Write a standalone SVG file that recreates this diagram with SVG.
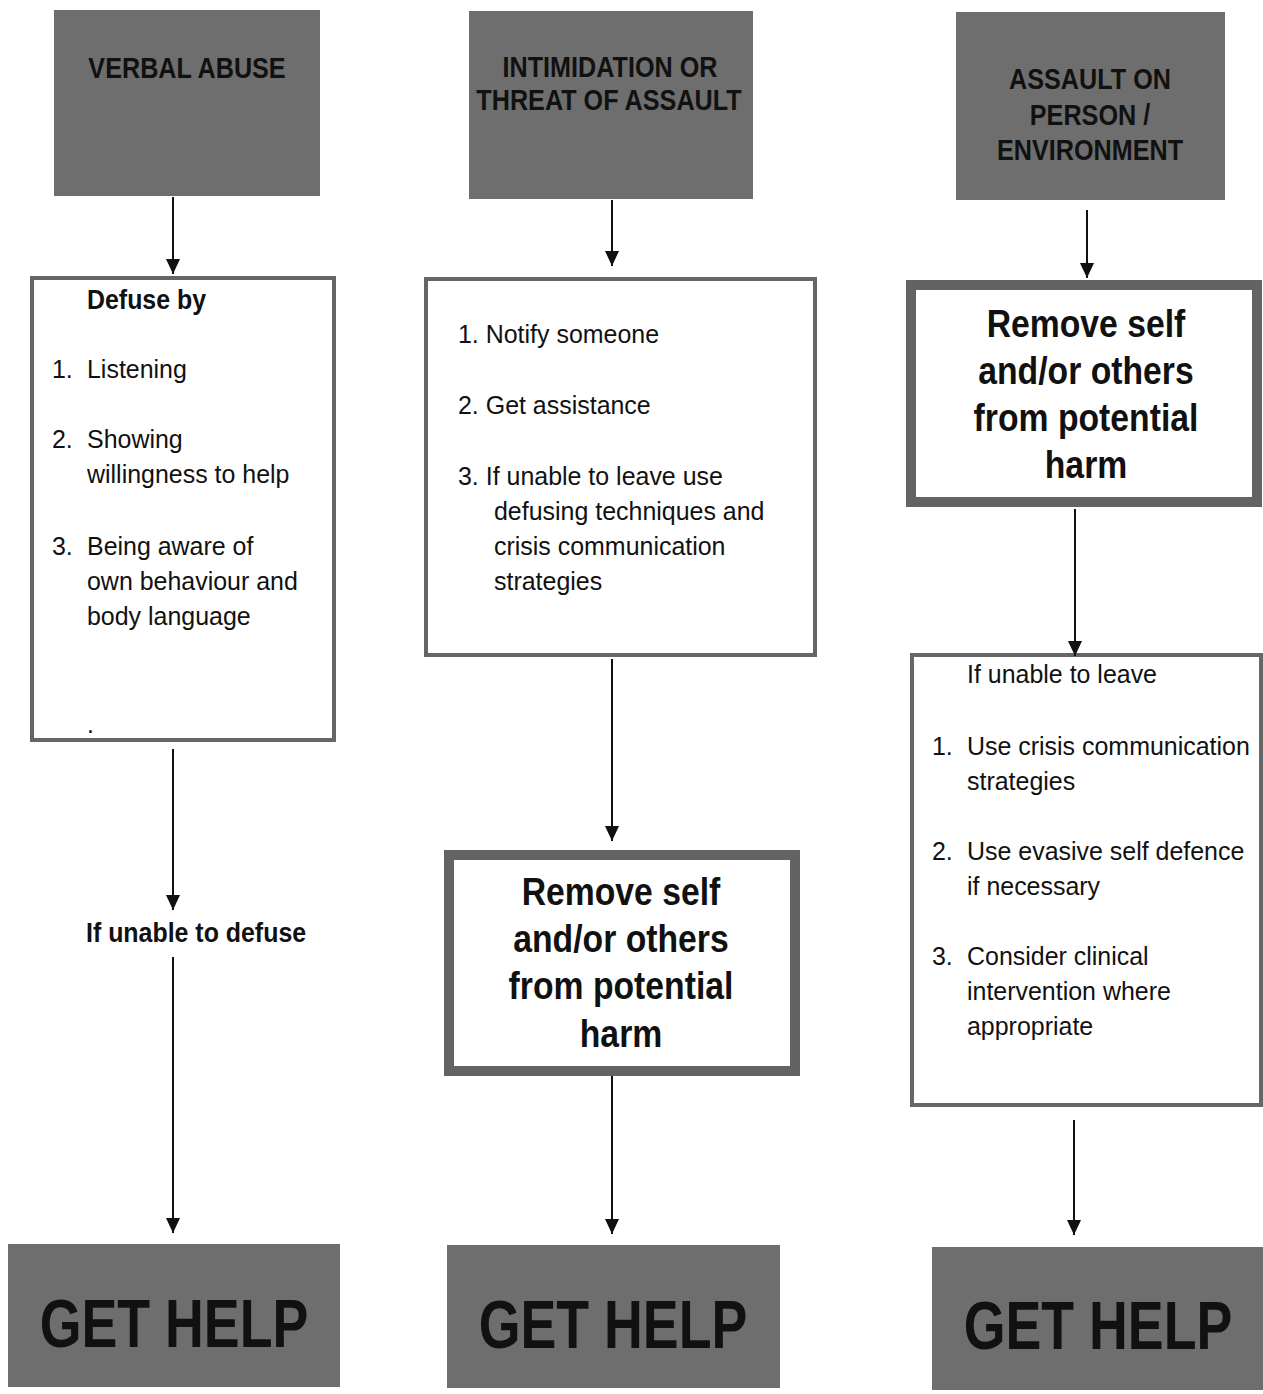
<svg xmlns="http://www.w3.org/2000/svg" width="1263" height="1394" viewBox="0 0 1263 1394">
<style>
text{font-family:"Liberation Sans",Arial,sans-serif;fill:#111}
.hdr{fill:#6e6e6e;stroke:none}
.box{fill:#fff;stroke:#666;stroke-width:4}
.tbox{fill:#fff;stroke:#636363;stroke-width:10}
.lab{font-size:30px;font-weight:bold}
.gh{font-size:68px;font-weight:bold}
.reg{font-size:26px}
.bs{font-size:28px;font-weight:bold}
.big{font-size:39px;font-weight:bold}
.c{text-anchor:middle}
.con line{stroke:#111;stroke-width:2;marker-end:url(#ah)}
</style>
<defs>
<marker id="ah" markerUnits="userSpaceOnUse" markerWidth="16" markerHeight="16" refX="15" refY="7" orient="auto">
<path d="M0,0 L15,7 L0,14 z" fill="#111"/>
</marker>
</defs>
<rect width="1263" height="1394" fill="#fff"/>

<g id="verbal-abuse">
<rect class="hdr" x="54" y="10" width="266" height="186"/>
<text class="lab c" transform="translate(187,78) scale(0.84,1)">VERBAL ABUSE</text>
</g>
<g id="intimidation">
<rect class="hdr" x="469" y="11" width="284" height="188"/>
<text class="lab c" transform="translate(610,77) scale(0.84,1)">INTIMIDATION OR</text>
<text class="lab c" transform="translate(609,110) scale(0.84,1)">THREAT OF ASSAULT</text>
</g>
<g id="assault">
<rect class="hdr" x="956" y="12" width="269" height="188"/>
<text class="lab c" transform="translate(1090,89) scale(0.84,1)">ASSAULT ON</text>
<text class="lab c" transform="translate(1090,125) scale(0.84,1)">PERSON /</text>
<text class="lab c" transform="translate(1090,160) scale(0.84,1)">ENVIRONMENT</text>
</g>

<g id="defuse-box">
<rect class="box" x="32" y="278" width="302" height="462"/>
<text class="bs" transform="translate(87,309) scale(0.89,1)">Defuse by</text>
<text class="reg" transform="translate(52,378) scale(0.96,1)">1.</text>
<text class="reg" transform="translate(87,378) scale(0.96,1)">Listening</text>
<text class="reg" transform="translate(52,448) scale(0.96,1)">2.</text>
<text class="reg" transform="translate(87,448) scale(0.96,1)">Showing</text>
<text class="reg" transform="translate(87,483) scale(0.96,1)">willingness to help</text>
<text class="reg" transform="translate(52,555) scale(0.96,1)">3.</text>
<text class="reg" transform="translate(87,555) scale(0.96,1)">Being aware of</text>
<text class="reg" transform="translate(87,590) scale(0.96,1)">own behaviour and</text>
<text class="reg" transform="translate(87,625) scale(0.96,1)">body language</text>
<text class="reg" transform="translate(87,733) scale(0.96,1)">.</text>
</g>

<g id="notify-box">
<rect class="box" x="426" y="279" width="389" height="376"/>
<text class="reg" transform="translate(458,343) scale(0.96,1)">1. Notify someone</text>
<text class="reg" transform="translate(458,414) scale(0.96,1)">2. Get assistance</text>
<text class="reg" transform="translate(458,485) scale(0.96,1)">3. If unable to leave use</text>
<text class="reg" transform="translate(494,520) scale(0.96,1)">defusing techniques and</text>
<text class="reg" transform="translate(494,555) scale(0.96,1)">crisis communication</text>
<text class="reg" transform="translate(494,590) scale(0.96,1)">strategies</text>
</g>

<g id="remove-right">
<rect class="tbox" x="911" y="285" width="346" height="217"/>
<text class="big c" transform="translate(1086,337) scale(0.865,1)">Remove self</text>
<text class="big c" transform="translate(1086,384) scale(0.865,1)">and/or others</text>
<text class="big c" transform="translate(1086,431) scale(0.865,1)">from potential</text>
<text class="big c" transform="translate(1086,478) scale(0.865,1)">harm</text>
</g>

<g id="unable-leave-box">
<rect class="box" x="912" y="655" width="349" height="450"/>
<text class="reg" transform="translate(967,683) scale(0.96,1)">If unable to leave</text>
<text class="reg" transform="translate(932,755) scale(0.96,1)">1.</text>
<text class="reg" transform="translate(967,755) scale(0.96,1)">Use crisis communication</text>
<text class="reg" transform="translate(967,790) scale(0.96,1)">strategies</text>
<text class="reg" transform="translate(932,860) scale(0.96,1)">2.</text>
<text class="reg" transform="translate(967,860) scale(0.96,1)">Use evasive self defence</text>
<text class="reg" transform="translate(967,895) scale(0.96,1)">if necessary</text>
<text class="reg" transform="translate(932,965) scale(0.96,1)">3.</text>
<text class="reg" transform="translate(967,965) scale(0.96,1)">Consider clinical</text>
<text class="reg" transform="translate(967,1000) scale(0.96,1)">intervention where</text>
<text class="reg" transform="translate(967,1035) scale(0.96,1)">appropriate</text>
</g>

<g id="unable-defuse">
<text class="bs" transform="translate(86,942) scale(0.89,1)">If unable to defuse</text>
</g>

<g id="remove-middle">
<rect class="tbox" x="449" y="855" width="346" height="216"/>
<text class="big c" transform="translate(621,905) scale(0.865,1)">Remove self</text>
<text class="big c" transform="translate(621,952) scale(0.865,1)">and/or others</text>
<text class="big c" transform="translate(621,999) scale(0.865,1)">from potential</text>
<text class="big c" transform="translate(621,1047) scale(0.865,1)">harm</text>
</g>

<g id="get-help-1">
<rect class="hdr" x="8" y="1244" width="332" height="143"/>
<text class="gh c" transform="translate(174,1347) scale(0.79,1)">GET HELP</text>
</g>
<g id="get-help-2">
<rect class="hdr" x="447" y="1245" width="333" height="143"/>
<text class="gh c" transform="translate(613,1348) scale(0.79,1)">GET HELP</text>
</g>
<g id="get-help-3">
<rect class="hdr" x="932" y="1247" width="331" height="143"/>
<text class="gh c" transform="translate(1098,1349) scale(0.79,1)">GET HELP</text>
</g>

<g id="connectors" class="con">
<line x1="173" y1="197" x2="173" y2="274"/>
<line x1="173" y1="749" x2="173" y2="910"/>
<line x1="173" y1="957" x2="173" y2="1233"/>
<line x1="612" y1="200" x2="612" y2="266"/>
<line x1="612" y1="659" x2="612" y2="841"/>
<line x1="612" y1="1076" x2="612" y2="1234"/>
<line x1="1087" y1="210" x2="1087" y2="278"/>
<line x1="1075" y1="509" x2="1075" y2="656"/>
<line x1="1074" y1="1120" x2="1074" y2="1235"/>
</g>
</svg>
